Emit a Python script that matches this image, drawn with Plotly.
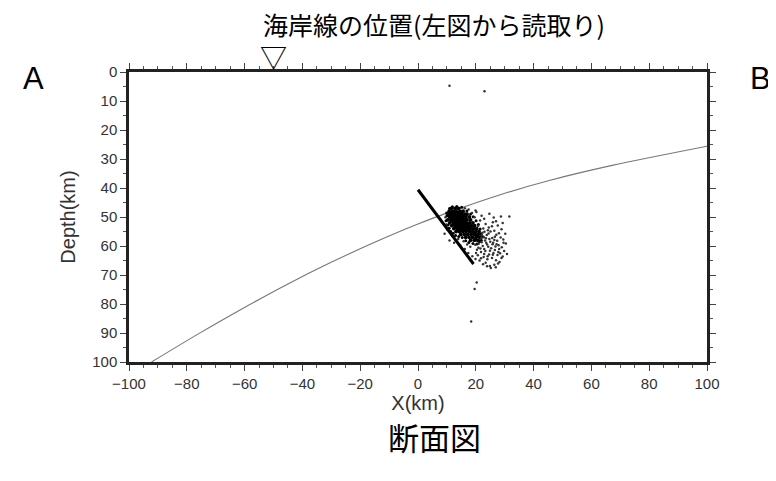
import plotly.graph_objects as go

# Plate boundary curve (x km, depth km)
plate_x = [-92.2, -76.0, -61.1, -45.0, -30.6, -15.0, 0.0, 14.0, 28.2, 45.4, 67.2, 100.0]
plate_depth = [100.0, 90.3, 81.8, 73.1, 65.9, 58.7, 52.4, 47.2, 42.4, 37.4, 32.2, 25.6]

# Thick segment (fault model)
fault_x = [0.0, 19.2]
fault_depth = [40.6, 66.2]

# Coastline position
coast_x = [-50.0]
coast_label = "▽"

# Hypocenters - dense core
core_pts = [
    (11.5, 47), (12.8, 47), (14.0, 47),
    (10.8, 48), (12.0, 48), (13.2, 48), (14.5, 48), (15.6, 48),
    (10.5, 49), (11.6, 49), (12.7, 49), (13.9, 49), (15.0, 49), (16.2, 49), (17.0, 49),
    (10.9, 50), (12.1, 50), (13.3, 50), (14.4, 50), (15.5, 50), (16.6, 50), (17.8, 50),
    (10.3, 51), (11.4, 51), (12.5, 51), (13.6, 51), (14.8, 51), (15.9, 51), (17.0, 51), (18.2, 51),
    (11.0, 52), (12.2, 52), (13.3, 52), (14.4, 52), (15.6, 52), (16.7, 52), (17.9, 52), (19.0, 52),
    (11.7, 53), (12.8, 53), (13.9, 53), (15.1, 53), (16.2, 53), (17.4, 53), (18.5, 53), (19.6, 53),
    (12.4, 54), (13.5, 54), (14.6, 54), (15.8, 54), (16.9, 54), (18.1, 54), (19.2, 54), (20.3, 54),
    (13.2, 55), (14.3, 55), (15.5, 55), (16.6, 55), (17.8, 55), (18.9, 55), (20.0, 55), (21.1, 55),
    (14.8, 56), (16.0, 56), (17.2, 56), (18.4, 56), (19.6, 56), (20.7, 56),
    (16.5, 57), (17.7, 57), (18.9, 57), (20.1, 57), (21.4, 57),
    (18.2, 58), (19.5, 58), (20.8, 58),
    (11.3, 48.5), (12.5, 48.5), (13.8, 48.5), (15.0, 48.5),
    (11.1, 49.5), (12.3, 49.5), (13.4, 49.5), (14.6, 49.5), (15.7, 49.5),
    (11.6, 50.5), (12.8, 50.5), (13.9, 50.5), (15.1, 50.5), (16.2, 50.5),
    (11.9, 51.5), (13.0, 51.5), (14.2, 51.5), (15.3, 51.5), (16.4, 51.5),
    (12.6, 52.5), (13.7, 52.5), (14.9, 52.5), (16.0, 52.5), (17.2, 52.5),
    (13.2, 53.5), (14.3, 53.5), (15.4, 53.5), (16.6, 53.5), (17.8, 53.5),
    (14.0, 54.5), (15.2, 54.5), (16.3, 54.5), (17.5, 54.5),
    (19.5, 55.6), (20.6, 56.5), (21.7, 55.9), (19.9, 57.9), (21.2, 58.4),
]
# Hypocenters - ragged edge of the core
edge_pts = [
    (9.9, 48.6), (10.0, 49.6), (9.7, 51.3), (10.4, 52.8), (10.8, 53.9), (11.3, 55.0), (12.2, 55.6),
    (13.0, 56.4), (14.1, 56.7), (15.3, 57.1), (16.5, 58.2), (17.6, 58.8), (19.0, 59.1), (20.4, 59.3),
    (21.9, 58.0), (22.4, 56.8), (21.5, 54.1), (20.9, 52.6), (20.1, 51.3), (19.1, 49.9), (18.2, 49.0),
    (16.9, 47.9), (15.1, 46.6), (13.4, 46.4), (11.9, 46.5), (10.9, 47.1),
]
# Hypocenters - sparse surroundings
sparse_pts = [
    (22.8, 57.0), (23.5, 57.3),
    (22.3, 55.4), (23.8, 56.2), (25.1, 55.0), (26.6, 56.8), (21.9, 57.3), (23.2, 58.1), (24.7, 57.6),
    (26.0, 58.9), (27.4, 58.2), (28.6, 57.1), (21.0, 59.2), (22.4, 60.0), (23.9, 59.5), (25.3, 60.8),
    (26.8, 60.2), (28.1, 61.0), (20.4, 61.3), (21.8, 62.1), (23.3, 61.7), (24.6, 62.9), (26.1, 62.4),
    (27.5, 63.1), (22.7, 63.8), (24.0, 64.6), (25.6, 64.1), (27.0, 64.9), (21.3, 65.0), (23.4, 65.8),
    (26.4, 66.5), (28.4, 62.5), (19.8, 59.6), (20.9, 60.6), (22.0, 58.7), (24.3, 60.3), (25.8, 59.4),
    (27.9, 59.7), (29.0, 60.4), (29.3, 63.6), (28.2, 65.5), (24.9, 66.9),
    (20.2, 48.3), (22.0, 49.6), (24.7, 48.9), (28.7, 49.8), (31.6, 49.8), (21.5, 51.2), (23.4, 52.4),
    (25.9, 51.8), (27.6, 52.9), (30.2, 55.8), (19.6, 50.1), (18.7, 48.6), (20.8, 53.1), (22.6, 54.0),
    (24.5, 53.6), (26.4, 54.7), (28.9, 54.2), (17.5, 47.4), (16.2, 47.0),
    (10.9, 58.1), (9.2, 55.8), (9.8, 52.6), (9.5, 50.1), (10.1, 54.3), (11.8, 56.5), (12.5, 58.9),
    (13.9, 57.6), (14.6, 59.8), (15.8, 58.4), (17.0, 59.5), (16.2, 61.0), (18.1, 60.3), (17.4, 62.4),
    (18.8, 63.5),
    (22.1, 56.3), (24.4, 55.7), (25.7, 57.2), (27.1, 56.1), (28.0, 55.6), (29.5, 57.8), (30.4, 59.1),
    (29.8, 61.7), (30.8, 62.8), (28.9, 64.1), (27.7, 66.0), (26.9, 67.3), (25.2, 67.6), (23.9, 67.0),
    (22.5, 66.3), (21.8, 64.2), (20.7, 63.2), (20.1, 62.4), (19.9, 64.5), (22.9, 62.8), (24.9, 61.6),
    (26.6, 61.4), (27.2, 59.4), (25.0, 58.5), (23.6, 58.9), (21.6, 60.9), (22.9, 61.0), (24.1, 63.5),
    (25.9, 63.0), (27.8, 62.1), (29.6, 58.9), (26.4, 57.9), (23.0, 55.1), (24.2, 54.6), (25.6, 53.2),
    (27.0, 51.5), (29.3, 52.1), (22.9, 50.6), (26.2, 50.2), (19.9, 47.8),
    (10.9, 4.7), (23.0, 6.6), (20.3, 72.6), (19.6, 74.8), (18.4, 86.0),
]
core_x = [p[0] for p in core_pts]
core_depth = [p[1] for p in core_pts]
edge_x = [p[0] for p in edge_pts]
edge_depth = [p[1] for p in edge_pts]
sparse_x = [p[0] for p in sparse_pts]
sparse_depth = [p[1] for p in sparse_pts]

LAT = "Liberation Sans, Arial, sans-serif"
JP = "Noto Sans CJK JP, sans-serif"

fig = go.Figure()
fig.add_trace(go.Scatter(x=plate_x, y=plate_depth, mode="lines",
                         line=dict(color="#777777", width=1.1, shape="spline", smoothing=0.8),
                         hoverinfo="skip"))
fig.add_trace(go.Scatter(x=core_x, y=core_depth, mode="markers",
                         marker=dict(color="black", size=3.8, line=dict(width=0))))
fig.add_trace(go.Scatter(x=edge_x, y=edge_depth, mode="markers",
                         marker=dict(color="black", size=3.0, line=dict(width=0))))
fig.add_trace(go.Scatter(x=sparse_x, y=sparse_depth, mode="markers",
                         marker=dict(color="#333333", size=2.5, line=dict(width=0))))
fig.add_trace(go.Scatter(x=fault_x, y=fault_depth, mode="lines",
                         line=dict(color="black", width=3)))

axis_common = dict(
    showline=True, linecolor="#222222", linewidth=2.5, mirror="ticks",
    ticks="outside", ticklen=6, tickwidth=1.2, tickcolor="#444444",
    showgrid=False, zeroline=False,
    tickfont=dict(family=LAT, size=15, color="#333333"),
)

fig.update_xaxes(range=[-100, 100], dtick=20, tick0=-100,
                 minor=dict(dtick=5, ticks="outside", ticklen=3, tickwidth=1, tickcolor="#555555"),
                 title=dict(text="X(km)", font=dict(family=LAT, size=20, color="#333333"), standoff=4),
                 **axis_common)
fig.update_yaxes(range=[100, 0], dtick=10, tick0=0,
                 minor=dict(dtick=5, ticks="outside", ticklen=3, tickwidth=1, tickcolor="#555555"),
                 title=dict(text="Depth(km)", font=dict(family=LAT, size=20, color="#333333"), standoff=12),
                 **axis_common)

def ann(text, x, y, font, xref="paper"):
    fig.add_annotation(text=text, xref=xref, yref="paper", x=x, y=y,
                       xanchor="center", yanchor="middle", showarrow=False, font=font)

ann("A", -0.166, 0.979, dict(family=LAT, size=31, color="black"))
ann("B", 1.092, 0.979, dict(family=LAT, size=31, color="black"))
ann("海岸線の位置(左図から読取り)", 0.5277, 1.165, dict(family=JP, size=25, color="black"))
ann(coast_label, coast_x[0], 1.054, dict(family=JP, size=27, color="black"), xref="x")
ann("断面図", 0.5277, -0.2586, dict(family=JP, size=31, color="black"))

fig.update_layout(
    width=776, height=481,
    margin=dict(l=121, r=77, t=64, b=127),
    paper_bgcolor="white", plot_bgcolor="white",
    showlegend=False,
)

fig.write_html("out.html")
